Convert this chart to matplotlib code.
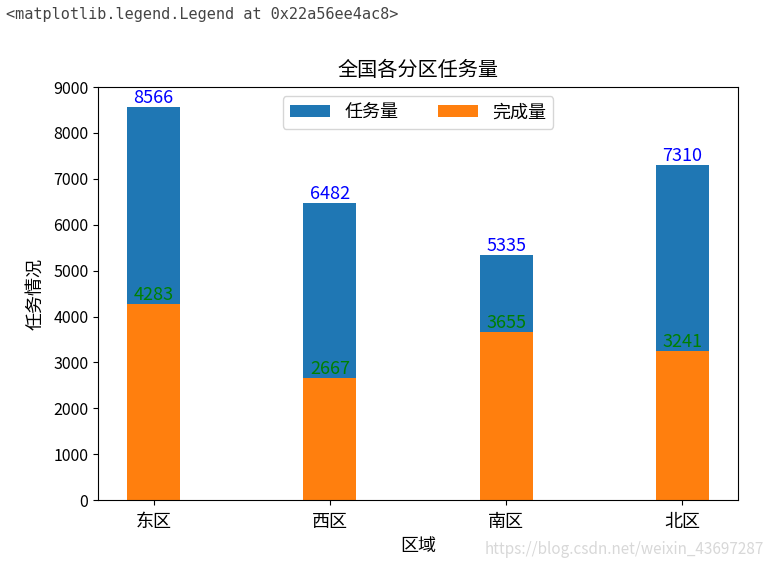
import matplotlib
matplotlib.use("Agg")
import matplotlib.pyplot as plt
import numpy as np

plt.rcParams['font.family'] = ['Noto Sans CJK SC', 'DejaVu Sans']
plt.rcParams['axes.unicode_minus'] = False

regions = ['东区', '西区', '南区', '北区']
tasks = [8566, 6482, 5335, 7310]
done = [4283, 2667, 3655, 3241]

fig = plt.figure(figsize=(7.72, 5.69), dpi=100)
ax = fig.add_axes([0.127, 0.121, 0.829, 0.726])

x = np.arange(len(regions))
w = 0.3
ax.bar(x, tasks, width=w, color='#1f77b4', label='任务量')
ax.bar(x, done, width=w, color='#ff7f0e', label='完成量')

for xi, v in zip(x, tasks):
    ax.text(xi, v, str(v), ha='center', va='bottom', color='blue', fontsize=13)
for xi, v in zip(x, done):
    ax.text(xi, v, str(v), ha='center', va='bottom', color='green', fontsize=13)

ax.set_ylim(0, 9000)
ax.set_yticks(range(0, 9001, 1000))
ax.set_xticks(x)
ax.set_xticklabels(regions, fontsize=13)
ax.tick_params(axis='x', pad=6)
ax.tick_params(axis='y', labelsize=11.5)
ax.set_title('全国各分区任务量', fontsize=14.5, pad=8)
ax.set_xlabel('区域', fontsize=13, labelpad=4)
ax.set_ylabel('任务情况', fontsize=13, labelpad=6)
ax.legend(loc='upper center', ncol=2, fontsize=13, handlelength=2.2, columnspacing=2.2)

fig.text(0.008, 0.975, '<matplotlib.legend.Legend at 0x22a56ee4ac8>', fontsize=11,
         family='DejaVu Sans Mono', color='#444444', va='center', ha='left')
fig.text(0.99, 0.035, 'https://blog.csdn.net/weixin_43697287', fontsize=11,
         color='#d8d8d8', ha='right', va='center')

fig.savefig('out.png', dpi=100)
